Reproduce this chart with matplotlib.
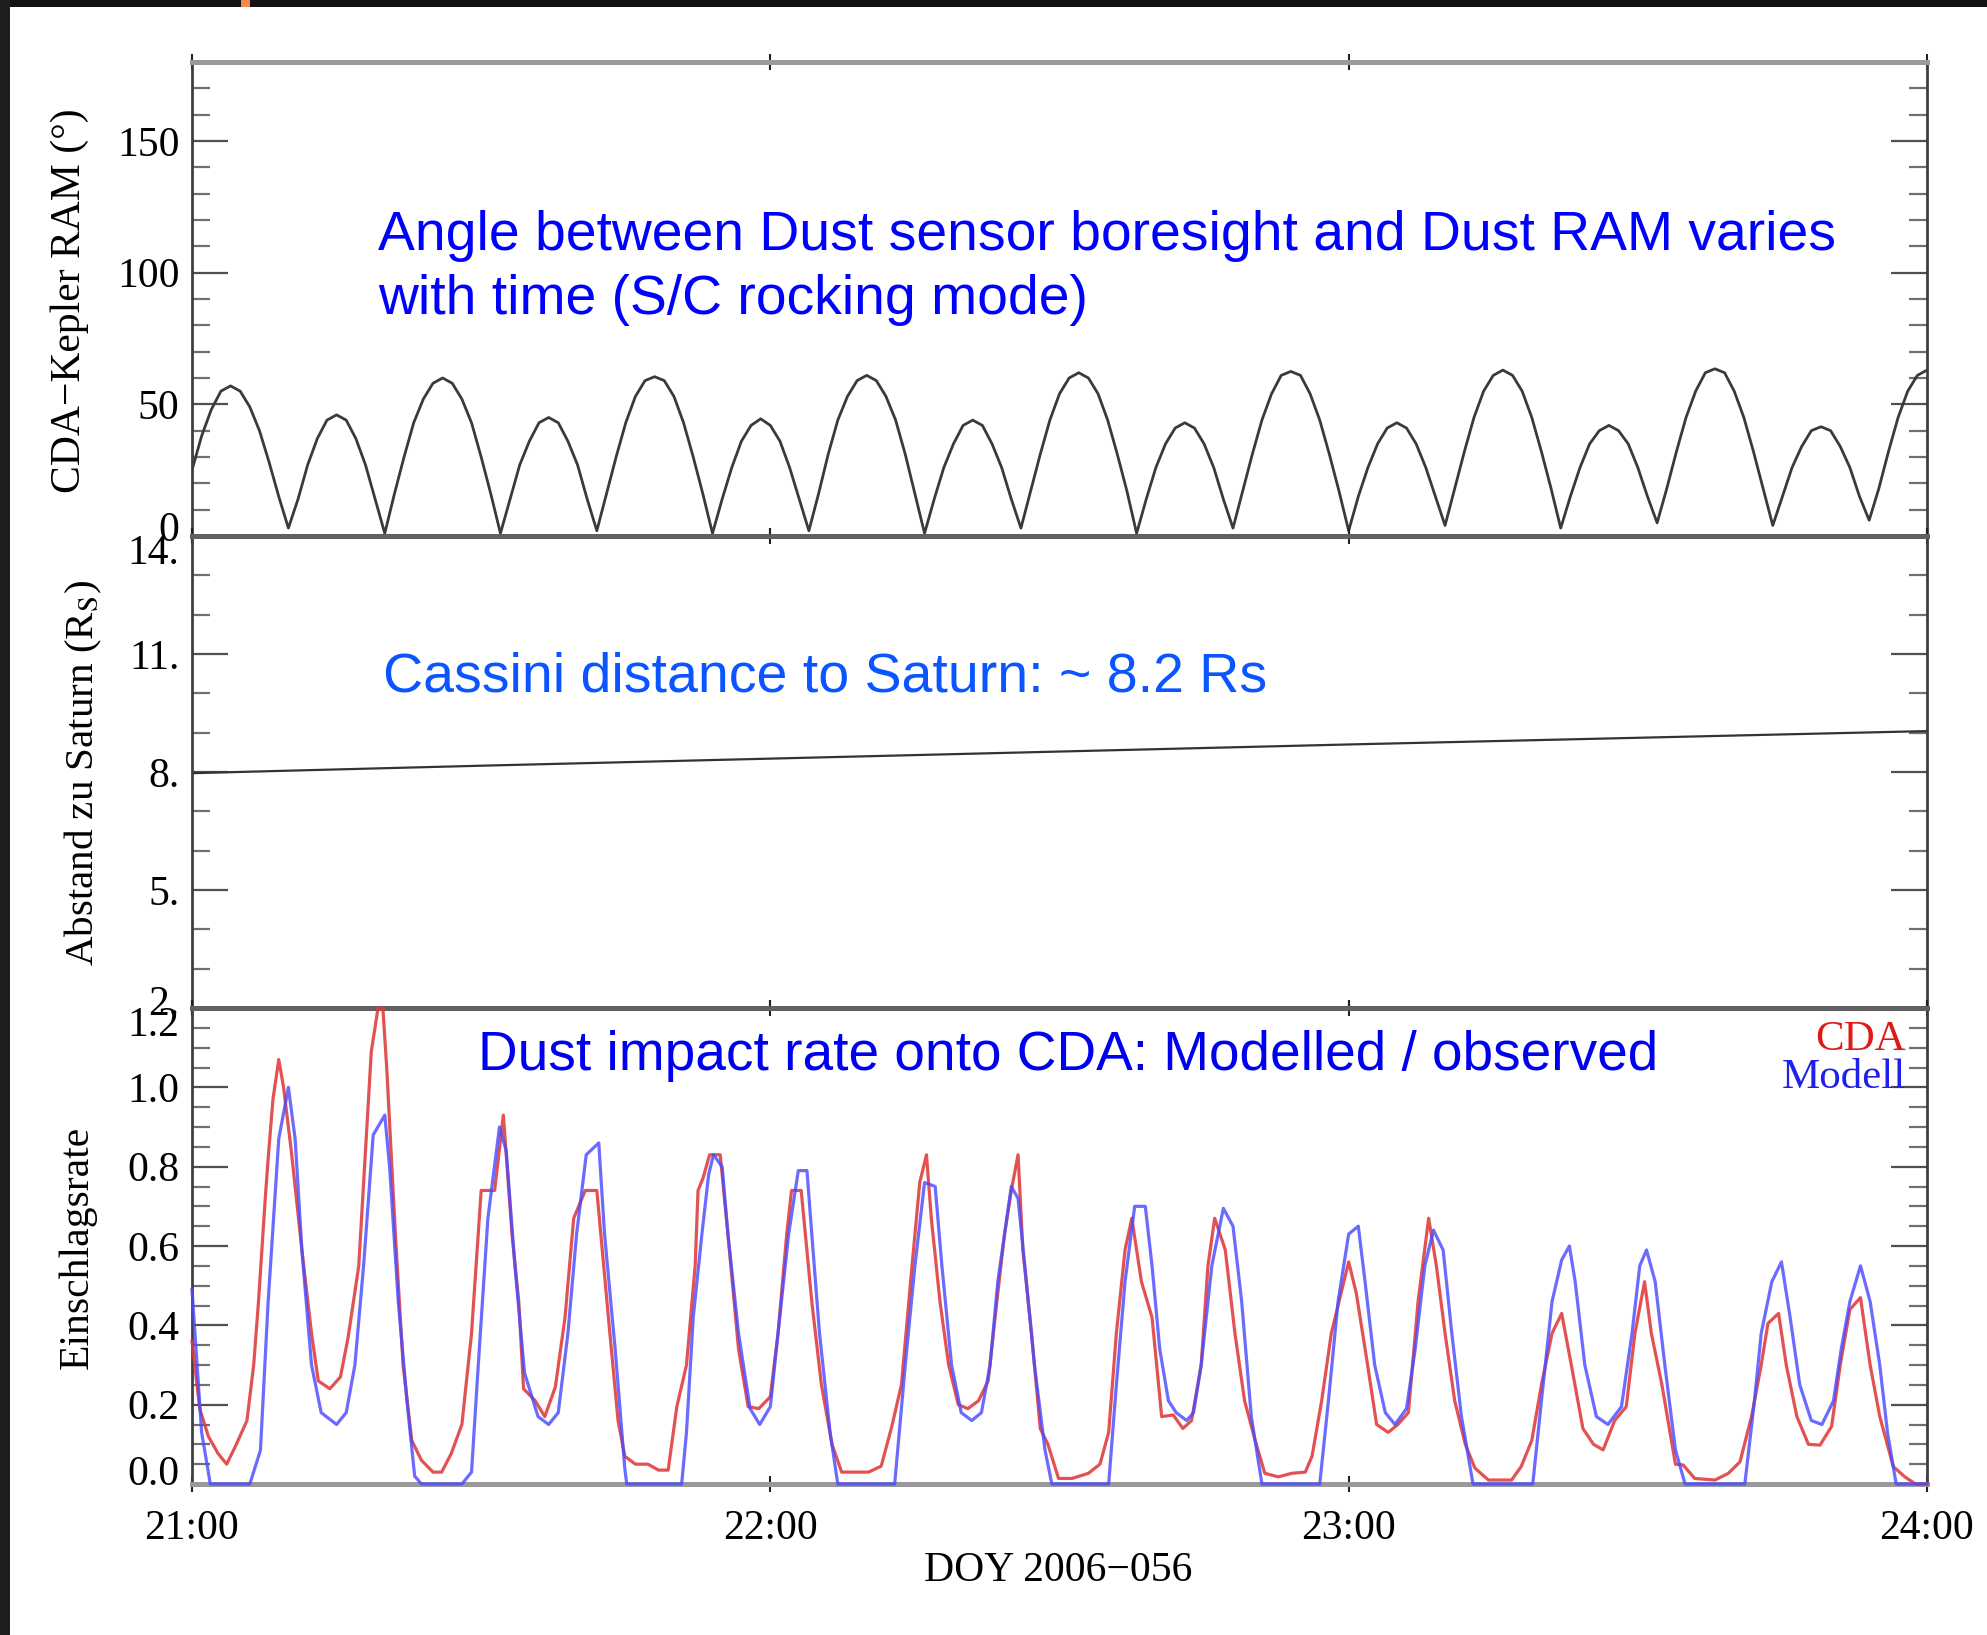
import matplotlib
matplotlib.use("Agg")
import matplotlib.pyplot as plt
import numpy as np
from matplotlib.ticker import FixedLocator, MultipleLocator, NullLocator
from matplotlib.transforms import ScaledTranslation
from matplotlib.patches import Rectangle

plt.rcParams['font.family'] = ['Liberation Serif', 'DejaVu Serif']
plt.rcParams['mathtext.fontset'] = 'stix'

# panel 1: angle CDA boresight vs Kepler RAM, 1-min samples from 21:00
angle_min = np.arange(181)
angle_deg = [25, 38, 48, 55, 57, 55, 49, 40, 28, 15, 3,
             14, 27, 37, 44, 46, 44, 37, 27, 14, 1,
             16, 30, 43, 52, 58, 60, 58, 52, 43, 30, 16, 1,
             14, 27, 36, 43, 45, 43, 36, 27, 14, 2,
             16, 30, 43, 53, 59, 60.5, 59, 53, 43, 30, 16, 1,
             14, 26, 36, 42, 44.5, 42, 36, 26, 14, 2,
             16, 31, 44, 53, 59, 61, 59, 53, 44, 31, 16, 1,
             14, 26, 35, 42, 44, 42, 35, 26, 14, 3,
             17, 31, 44, 54, 60, 62, 60, 54, 44, 31, 17, 1,
             14, 26, 35, 41, 43, 41, 35, 26, 14, 3,
             17, 31, 44, 54, 61, 62.5, 61, 54, 44, 31, 17, 2,
             15, 26, 35, 41, 43, 41, 35, 26, 15, 4,
             18, 32, 45, 55, 61, 63, 61, 55, 45, 32, 18, 3,
             15, 26, 35, 40, 42, 40, 35, 26, 15, 5,
             18, 32, 45, 55, 62, 63.5, 62, 55, 45, 32, 18, 4,
             15, 26, 34, 40, 41.5, 40, 34, 26, 15, 6,
             18, 32, 45, 55, 61, 63]

# panel 2: distance to Saturn (Rs)
dist_min = [0, 30, 60, 90, 120, 150, 180]
dist_rs = [7.97, 8.16, 8.34, 8.52, 8.70, 8.87, 9.04]

# panel 3: impact rate, CDA observed (red)
cda_min = [0.0, 0.8, 1.7, 2.7, 3.6, 4.6, 5.7, 6.4, 6.9, 7.6, 7.9, 8.4, 9.0, 9.5, 10.3, 11.4,
           12.4, 13.1, 14.3, 15.4, 16.2, 17.3, 18.1, 18.6, 19.3, 19.8, 20.2, 21.1, 21.9, 22.8,
           23.8, 25.0, 25.9, 26.9, 28.0, 29.0, 30.0, 31.4, 32.3, 33.2, 33.9, 34.4, 35.6, 36.6,
           37.7, 38.7, 39.6, 40.8, 42.0, 43.2, 44.2, 44.9, 46.0, 47.3, 48.4, 49.4, 50.3, 51.3,
           52.2, 52.5, 53.0, 53.7, 54.8, 55.6, 56.7, 57.7, 58.8, 60.0, 60.8, 61.7, 62.2, 63.2,
           64.3, 65.3, 66.4, 67.4, 68.8, 70.2, 71.5, 72.6, 73.6, 74.7, 75.5, 76.2, 76.7, 77.6,
           78.5, 79.5, 80.5, 81.6, 82.6, 83.5, 84.3, 85.0, 85.7, 86.2, 87.1, 88.0, 88.8, 89.9,
           91.3, 93.0, 94.2, 95.1, 95.9, 96.8, 97.5, 98.5, 99.6, 100.6, 101.8, 102.8, 103.7,
           104.7, 105.4, 106.1, 107.2, 108.2, 109.2, 110.3, 111.3, 112.7, 114.1, 115.5, 116.2,
           117.2, 118.2, 119.3, 120.0, 120.8, 121.9, 122.9, 124.1, 125.1, 126.2, 127.2, 128.3,
           129.1, 130.0, 131.0, 132.1, 133.1, 134.5, 136.9, 137.9, 139.0, 140.0, 141.1, 142.1,
           143.1, 144.3, 145.4, 146.4, 147.6, 148.8, 149.7, 150.7, 151.4, 152.5, 153.9, 154.7,
           155.9, 158.0, 159.4, 160.6, 161.8, 162.8, 163.5, 164.6, 165.4, 166.5, 167.7, 168.9,
           170.1, 171.0, 172.0, 173.1, 174.1, 175.1, 176.5, 177.7, 178.8, 180.0]
cda_rate = [0.36, 0.19, 0.12, 0.077, 0.05, 0.10, 0.16, 0.30, 0.46, 0.72, 0.82, 0.97, 1.07, 1.00, 0.84, 0.59,
            0.38, 0.26, 0.24, 0.27, 0.37, 0.55, 0.88, 1.09, 1.20, 1.20, 1.05, 0.63, 0.30, 0.11,
            0.06, 0.03, 0.03, 0.077, 0.15, 0.38, 0.74, 0.74, 0.93, 0.63, 0.46, 0.24, 0.21, 0.17,
            0.245, 0.42, 0.67, 0.74, 0.74, 0.42, 0.16, 0.07, 0.05, 0.05, 0.035, 0.035, 0.195, 0.30,
            0.55, 0.74, 0.77, 0.83, 0.83, 0.63, 0.34, 0.195, 0.19, 0.22, 0.38, 0.63, 0.74, 0.74,
            0.46, 0.25, 0.10, 0.03, 0.03, 0.03, 0.045, 0.145, 0.25, 0.55, 0.76, 0.83, 0.67, 0.46,
            0.30, 0.20, 0.19, 0.21, 0.26, 0.46, 0.63, 0.74, 0.83, 0.59, 0.38, 0.14, 0.10, 0.014,
            0.014, 0.027, 0.05, 0.13, 0.38, 0.59, 0.67, 0.51, 0.42, 0.17, 0.174, 0.14, 0.16,
            0.30, 0.55, 0.67, 0.59, 0.38, 0.21, 0.11, 0.027, 0.018, 0.027, 0.03, 0.07,
            0.21, 0.38, 0.49, 0.56, 0.48, 0.31, 0.15, 0.13, 0.15, 0.18, 0.46, 0.67,
            0.55, 0.38, 0.21, 0.10, 0.04, 0.01, 0.01, 0.044, 0.11, 0.25, 0.38, 0.43,
            0.30, 0.14, 0.10, 0.086, 0.16, 0.195, 0.38, 0.51, 0.38, 0.25, 0.05, 0.048,
            0.014, 0.01, 0.027, 0.056, 0.17, 0.30, 0.405, 0.43, 0.30, 0.17, 0.10, 0.098,
            0.145, 0.30, 0.44, 0.47, 0.30, 0.17, 0.044, 0.018, 0.0, 0.0]

# panel 3: model (blue)
mod_min = [0.0, 1.0, 1.9, 6.0, 7.1, 7.9, 9.0, 10.0, 10.7, 11.4, 12.4, 13.4, 15.0, 16.0, 16.9,
           17.8, 18.8, 20.0, 20.5, 21.4, 22.3, 23.1, 23.8, 28.0, 29.0, 29.7, 30.7, 31.9, 32.6,
           33.5, 34.5, 35.9, 37.0, 38.0, 39.0, 39.9, 40.9, 42.2, 42.8, 43.9, 44.9, 45.1, 50.8,
           51.3, 52.0, 52.9, 53.6, 54.1, 55.0, 55.6, 56.7, 57.9, 58.9, 60.0, 60.8, 61.9, 62.9,
           63.8, 64.3, 65.1, 66.2, 67.0, 72.9, 74.0, 75.0, 76.0, 77.1, 77.8, 78.8, 79.8, 80.9,
           81.9, 82.8, 83.6, 85.0, 85.7, 86.4, 87.4, 88.5, 89.2, 95.1, 95.9, 96.8, 97.8, 98.9,
           99.6, 100.4, 101.3, 102.1, 103.2, 103.9, 104.7, 105.8, 107.0, 108.0, 108.9, 109.9,
           111.0, 117.0, 117.9, 118.9, 120.0, 121.0, 121.7, 122.7, 123.8, 124.8, 126.0, 126.9,
           127.9, 128.8, 129.8, 130.7, 131.7, 132.9, 139.1, 140.0, 141.1, 142.1, 142.9, 143.5,
           144.5, 145.7, 146.9, 148.3, 149.4, 150.2, 150.9, 151.8, 152.8, 153.9, 154.9, 161.1,
           162.1, 162.8, 163.9, 164.9, 165.8, 166.8, 168.0, 169.1, 170.3, 171.1, 172.0, 173.1,
           174.1, 175.1, 175.9, 176.8, 180.0]
mod_rate = [0.49, 0.13, 0.0, 0.0, 0.085, 0.46, 0.87, 1.00, 0.87, 0.59, 0.30, 0.18, 0.15, 0.18, 0.30,
            0.55, 0.88, 0.93, 0.80, 0.46, 0.21, 0.02, 0.0, 0.0, 0.03, 0.30, 0.67, 0.90, 0.84,
            0.55, 0.28, 0.17, 0.15, 0.18, 0.38, 0.63, 0.83, 0.86, 0.63, 0.34, 0.04, 0.0, 0.0,
            0.13, 0.42, 0.63, 0.78, 0.83, 0.80, 0.63, 0.38, 0.19, 0.15, 0.195, 0.38, 0.63, 0.79,
            0.79, 0.63, 0.38, 0.13, 0.0, 0.0, 0.30, 0.55, 0.76, 0.75, 0.55, 0.30, 0.18, 0.16,
            0.18, 0.30, 0.51, 0.75, 0.72, 0.55, 0.30, 0.085, 0.0, 0.0, 0.25, 0.51, 0.70, 0.70,
            0.55, 0.34, 0.21, 0.18, 0.16, 0.18, 0.30, 0.55, 0.695, 0.65, 0.46, 0.17,
            0.0, 0.0, 0.21, 0.46, 0.63, 0.65, 0.51, 0.30, 0.18, 0.15, 0.19, 0.34,
            0.55, 0.64, 0.59, 0.38, 0.17, 0.0, 0.0, 0.21, 0.46, 0.565, 0.60, 0.51,
            0.30, 0.17, 0.15, 0.195, 0.38, 0.55, 0.59, 0.51, 0.30, 0.086, 0.0, 0.0,
            0.21, 0.38, 0.51, 0.56, 0.42, 0.25, 0.16, 0.15, 0.21, 0.34, 0.46, 0.55,
            0.46, 0.30, 0.13, 0.0, 0.0]

hour_ticks = [21, 22, 23, 24]
hour_labels = ['21:00', '22:00', '23:00', '24:00']


def hours(m):
    return 21 + np.asarray(m, dtype=float) / 60.0


W, H = 1987, 1635
fig = plt.figure(figsize=(W / 100, H / 100), dpi=100)
fig.patch.set_facecolor('white')


def fx(x):
    return x / W


def fy(y):
    return 1 - y / H


L, R = 192, 1927
ax1 = fig.add_axes([fx(L), fy(536), (R - L) / W, (536 - 62) / H])
ax2 = fig.add_axes([fx(L), fy(1008), (R - L) / W, (1008 - 536) / H])
ax3 = fig.add_axes([fx(L), fy(1484), (R - L) / W, (1484 - 1008) / H])


def style(ax, top_col, bot_col):
    ax.set_xlim(21, 24)
    ax.spines['left'].set(linewidth=2, color='#404040')
    ax.spines['right'].set(linewidth=2, color='#404040')
    ax.spines['top'].set(linewidth=3.6, color=top_col)
    ax.spines['bottom'].set(linewidth=3.6, color=bot_col)
    ax.xaxis.set_major_locator(FixedLocator(hour_ticks))
    ax.xaxis.set_minor_locator(NullLocator())
    ax.tick_params(axis='x', which='major', direction='inout', length=12, width=1.5,
                   top=True, bottom=True, color='#222222', labelbottom=False,
                   labelsize=30, pad=12)
    ax.tick_params(axis='y', which='major', direction='in', length=26, width=1.6,
                   left=True, right=True, color='#505050', labelsize=30, pad=9)
    ax.tick_params(axis='y', which='minor', direction='in', length=13, width=1.6,
                   left=True, right=True, color='#707070')


style(ax1, '#9a9a9a', '#606060')
style(ax2, '#606060', '#606060')
style(ax3, '#606060', '#9a9a9a')

# panel 1
ax1.plot(hours(angle_min), angle_deg, color='#3a3a3a', lw=2.0)
ax1.set_ylim(0, 180)
ax1.set_yticks([0, 50, 100, 150])
ax1.yaxis.set_minor_locator(MultipleLocator(10))

# panel 2
ax2.plot(hours(dist_min), dist_rs, color='#333333', lw=1.6)
ax2.set_ylim(2, 14)
ax2.set_yticks([2, 5, 8, 11, 14])
ax2.set_yticklabels(['2.', '5.', '8.', '11.', '14.'])
ax2.yaxis.set_minor_locator(MultipleLocator(1))

# panel 3
ax3.plot(hours(cda_min), cda_rate, color='#e03a3a', lw=2.3, alpha=0.88,
         clip_on=False, zorder=3)
ax3.plot(hours(mod_min), mod_rate, color='#4a4aff', lw=2.3, alpha=0.82,
         clip_on=False, zorder=3)
ax3.set_ylim(0, 1.2)
ax3.set_yticks([0.0, 0.2, 0.4, 0.6, 0.8, 1.0, 1.2])
ax3.set_yticklabels(['0.0', '0.2', '0.4', '0.6', '0.8', '1.0', '1.2'])
ax3.yaxis.set_minor_locator(MultipleLocator(0.05))
ax3.set_xticks(hour_ticks)
ax3.set_xticklabels(hour_labels)
ax3.tick_params(axis='x', labelbottom=True)


def nudge(label, dy_px):
    label.set_transform(label.get_transform() +
                        ScaledTranslation(0, dy_px / 100, fig.dpi_scale_trans))


# edge labels sit slightly inside the panel, as in the original
nudge(ax1.yaxis.get_major_ticks()[0].label1, 10)
nudge(ax2.yaxis.get_major_ticks()[0].label1, 8)
nudge(ax2.yaxis.get_major_ticks()[-1].label1, -13)
nudge(ax3.yaxis.get_major_ticks()[0].label1, 14)
nudge(ax3.yaxis.get_major_ticks()[-1].label1, -13)

# axis labels
fig.text(fx(70), fy(301), 'CDA\u2212Kepler RAM (\u00b0)', rotation=90,
         ha='center', va='center', fontsize=30)
fig.text(fx(83), fy(773), 'Abstand zu Saturn (R$_\\mathrm{S}$)', rotation=90,
         ha='center', va='center', fontsize=29.5)
fig.text(fx(78), fy(1247), 'Einschlagsrate', rotation=90,
         ha='center', va='center', fontsize=30)
fig.text(fx(1058), fy(1571), 'DOY 2006\u2212056', ha='center', va='center', fontsize=30)

# annotations
sans = ['Liberation Sans', 'DejaVu Sans']
fig.text(fx(378), fy(250), 'Angle between Dust sensor boresight and Dust RAM varies',
         family=sans, fontsize=39.8, color='#0000ff', va='baseline')
fig.text(fx(378), fy(314), 'with time (S/C rocking mode)',
         family=sans, fontsize=39.8, color='#0000ff', va='baseline')
fig.text(fx(383), fy(691), 'Cassini distance to Saturn: ~ 8.2 Rs',
         family=sans, fontsize=40, color='#0a55ff', va='baseline')
fig.text(fx(478), fy(1070), 'Dust impact rate onto CDA: Modelled / observed',
         family=sans, fontsize=39.6, color='#0000f0', va='baseline')

# legend
fig.text(fx(1906), fy(1050), 'CDA', ha='right', va='baseline', fontsize=31, color='#e01818')
fig.text(fx(1906), fy(1088), 'Modell', ha='right', va='baseline', fontsize=31, color='#2020ee')

# dark frame of the screenshot
fig.patches.append(Rectangle((0, fy(7)), 1, 7 / H, transform=fig.transFigure,
                             facecolor='#121212', edgecolor='none'))
fig.patches.append(Rectangle((0, 0), 10 / W, 1, transform=fig.transFigure,
                             facecolor='#1e1e1e', edgecolor='none'))
fig.patches.append(Rectangle((fx(241), fy(7)), 9 / W, 7 / H, transform=fig.transFigure,
                             facecolor='#f08a50', edgecolor='none'))

fig.savefig('out.png', dpi=100)
